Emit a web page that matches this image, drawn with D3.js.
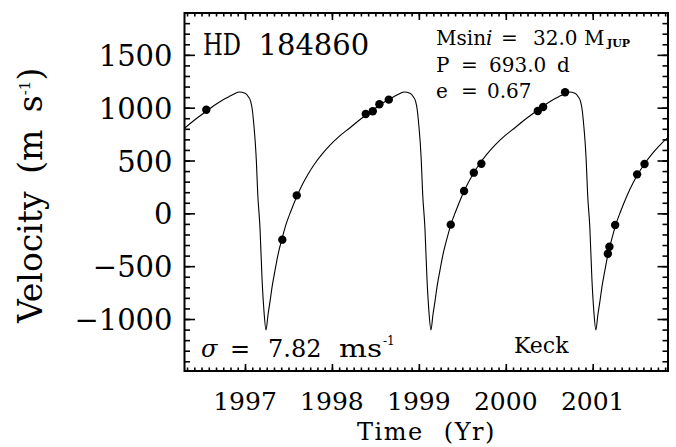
<!DOCTYPE html>
<html>
<head>
<meta charset="utf-8">
<script src="https://cdn.jsdelivr.net/npm/d3@7"></script>
<style>
html,body{margin:0;padding:0;background:#fff;}
svg{display:block;}
text{font-family:"DejaVu Serif",serif;fill:#000;}
</style>
</head>
<body>
<svg id="chart" width="676" height="447"></svg>
<script>
// ---- data ----
const obsYears = [1996.555, 1997.429, 1997.595, 1998.389, 1998.470, 1998.546, 1998.654,
  1999.367, 1999.520, 1999.632, 1999.719, 2000.368, 2000.429, 2000.682,
  2001.174, 2001.192, 2001.258, 2001.511, 2001.596];
const obsVel = [981, -249, 170, 940, 966, 1032, 1076,
  -107, 212, 385, 470, 969, 1006, 1146,
  -382, -316, -110, 369, 467];

const curveYears = [
  1996.1960, 1996.3110, 1996.4376, 1996.5527, 1996.6447, 1996.7483, 1996.8404, 1996.8864, 1996.9324,
  1997.0004, 1997.0383, 1997.0660, 1997.0844, 1997.1036, 1997.1188, 1997.1301, 1997.1462, 1997.1727,
  1997.1957, 1997.2187,
  1997.2417, 1997.2647, 1997.2877, 1997.3107, 1997.3453, 1997.3798, 1997.4258, 1997.4718, 1997.5294,
  1997.5984, 1997.6675, 1997.7250, 1997.7941, 1997.8861, 1997.9782, 1998.0933, 1998.2083, 1998.3349,
  1998.4500, 1998.5420, 1998.6456, 1998.7377, 1998.7837, 1998.8297, 1998.8977, 1998.9356, 1998.9633,
  1998.9817, 1999.0009, 1999.0161, 1999.0274, 1999.0435, 1999.0700, 1999.0930, 1999.1160,
  1999.1390, 1999.1620, 1999.1850, 1999.2080, 1999.2426, 1999.2771, 1999.3231, 1999.3691, 1999.4267,
  1999.4957, 1999.5648, 1999.6223, 1999.6914, 1999.7834, 1999.8755, 1999.9906, 2000.1056, 2000.2322,
  2000.3473, 2000.4393, 2000.5429, 2000.6350, 2000.6810, 2000.7270, 2000.7950, 2000.8329, 2000.8606,
  2000.8790, 2000.8982, 2000.9134, 2000.9247, 2000.9408, 2000.9673, 2000.9903, 2001.0133,
  2001.0363, 2001.0593, 2001.0823, 2001.1053, 2001.1399, 2001.1744, 2001.2204, 2001.2664, 2001.3240,
  2001.3930, 2001.4621, 2001.5196, 2001.5887, 2001.6807, 2001.7728, 2001.8879, 2002.0029
];
const curveVel = [
  735, 810, 895, 965, 1020, 1075, 1115, 1135, 1148,
  1136, 1104, 1057, 978, 820, 663, 505, 190, -142,
  -615, -931,
  -1104, -960, -836, -700, -540, -390, -240, -105, 25,
  165, 285, 370, 460, 560, 645, 735, 810, 895,
  965, 1020, 1075, 1115, 1135, 1148, 1136, 1104, 1057,
  978, 820, 663, 505, 190, -142, -615, -931,
  -1104, -960, -836, -700, -540, -390, -240, -105, 25,
  165, 285, 370, 460, 560, 645, 735, 810, 895,
  965, 1020, 1075, 1115, 1135, 1148, 1136, 1104, 1057,
  978, 820, 663, 505, 190, -142, -615, -931,
  -1104, -960, -836, -700, -540, -390, -240, -105, 25,
  165, 285, 370, 460, 560, 645, 735, 810
];

const xTickValues = [1997, 1998, 1999, 2000, 2001];
const xTickLabels = ["1997", "1998", "1999", "2000", "2001"];
const yTickValues = [-1000, -500, 0, 500, 1000, 1500];
const yTickLabels = ["\u22121000", "\u2212500", "0", "500", "1000", "1500"];

// ---- layout ----
const L = 184.5, R = 668, T = 13, B = 371;
const svg = d3.select("#chart");

const x = d3.scaleLinear().domain([1996.304, 2001.866]).range([L, R]);
const y = d3.scaleLinear().domain([-1492, 1896]).range([B, T]);

const xMinor = d3.range(1996, 2002.01, 1/12).filter(v => v >= x.domain()[0] && v <= x.domain()[1]);
const yMinor = d3.range(-1400, 1900, 100);

// clip
svg.append("defs").append("clipPath").attr("id", "clip")
  .append("rect").attr("x", L).attr("y", T).attr("width", R - L).attr("height", B - T);

// curve
const line = d3.line()
  .x((d, i) => x(curveYears[i]))
  .y((d, i) => y(curveVel[i]))
  .curve(d3.curveMonotoneX);

svg.append("path")
  .datum(curveVel)
  .attr("clip-path", "url(#clip)")
  .attr("d", line)
  .attr("fill", "none")
  .attr("stroke", "#000")
  .attr("stroke-width", 1.1);

// observations
svg.append("g").selectAll("circle")
  .data(obsVel)
  .join("circle")
  .attr("cx", (d, i) => x(obsYears[i]))
  .attr("cy", d => y(d))
  .attr("r", 4.2)
  .attr("fill", "#000");

// axes (ticks inward)
function styleAxis(g) {
  g.select(".domain").remove();
  g.selectAll(".tick line").attr("stroke", "#000").attr("stroke-width", 1.6);
}
const fmtNone = () => "";

svg.append("g").attr("transform", `translate(0,${B})`)
  .call(d3.axisBottom(x).tickValues(xMinor).tickSize(-3.5).tickFormat(fmtNone)).call(styleAxis);
svg.append("g").attr("transform", `translate(0,${B})`)
  .call(d3.axisBottom(x).tickValues(xTickValues).tickSize(-7).tickFormat(fmtNone)).call(styleAxis);
svg.append("g").attr("transform", `translate(0,${T})`)
  .call(d3.axisTop(x).tickValues(xMinor).tickSize(-3.5).tickFormat(fmtNone)).call(styleAxis);
svg.append("g").attr("transform", `translate(0,${T})`)
  .call(d3.axisTop(x).tickValues(xTickValues).tickSize(-7).tickFormat(fmtNone)).call(styleAxis);

svg.append("g").attr("transform", `translate(${L},0)`)
  .call(d3.axisLeft(y).tickValues(yMinor).tickSize(-5.5).tickFormat(fmtNone)).call(styleAxis);
svg.append("g").attr("transform", `translate(${L},0)`)
  .call(d3.axisLeft(y).tickValues(yTickValues).tickSize(-10.5).tickFormat(fmtNone)).call(styleAxis);
svg.append("g").attr("transform", `translate(${R},0)`)
  .call(d3.axisRight(y).tickValues(yMinor).tickSize(-5.5).tickFormat(fmtNone)).call(styleAxis);
svg.append("g").attr("transform", `translate(${R},0)`)
  .call(d3.axisRight(y).tickValues(yTickValues).tickSize(-10.5).tickFormat(fmtNone)).call(styleAxis);

// frame
svg.append("rect").attr("x", L).attr("y", T).attr("width", R - L).attr("height", B - T)
  .attr("fill", "none").attr("stroke", "#000").attr("stroke-width", 2);

// tick labels
svg.append("g").selectAll("text").data(xTickValues).join("text")
  .attr("x", d => x(d)).attr("y", 410)
  .attr("text-anchor", "middle").attr("font-size", 25)
  .text((d, i) => xTickLabels[i]);

svg.append("g").selectAll("text").data(yTickValues).join("text")
  .attr("x", 172.5).attr("y", d => y(d) + 11)
  .attr("text-anchor", "end").attr("font-size", 29)
  .text((d, i) => yTickLabels[i]);

// axis titles
svg.append("text")
  .attr("x", 426.5).attr("y", 440).attr("text-anchor", "middle")
  .attr("font-size", 24).style("letter-spacing", "1.5px").style("word-spacing", "11px")
  .text("Time (Yr)");

const yl = svg.append("text")
  .attr("transform", "translate(42,323) rotate(-90)")
  .attr("font-size", 33).style("word-spacing", "7px");
yl.append("tspan").text("Velocity (m s");
yl.append("tspan").attr("font-size", 15).attr("dy", -12).text("-1");
yl.append("tspan").attr("dy", 12).text(")");

// annotations
const hd = svg.append("text").attr("y", 55).attr("font-size", 29);
hd.append("tspan").attr("x", 203).attr("textLength", 38).attr("lengthAdjust", "spacingAndGlyphs").text("HD");
hd.append("tspan").attr("x", 258.5).text("184860");

const a1 = svg.append("text").attr("y", 45).attr("font-size", 20);
a1.append("tspan").attr("x", 436).text("Msin");
a1.append("tspan").attr("font-style", "italic").text("i");
a1.append("tspan").attr("x", 501).text("=");
a1.append("tspan").attr("x", 533).text("32.0");
a1.append("tspan").attr("x", 584).text("M");
a1.append("tspan").attr("x", 607).attr("dy", 2).attr("font-size", 11).attr("font-weight", "bold").text("JUP");

const a2 = svg.append("text").attr("y", 72).attr("font-size", 20);
a2.append("tspan").attr("x", 436).text("P");
a2.append("tspan").attr("x", 461).text("=");
a2.append("tspan").attr("x", 489).text("693.0");
a2.append("tspan").attr("x", 557).text("d");

const a3 = svg.append("text").attr("y", 98).attr("font-size", 20);
a3.append("tspan").attr("x", 436).text("e");
a3.append("tspan").attr("x", 461).text("=");
a3.append("tspan").attr("x", 487).text("0.67");

const sg = svg.append("text").attr("y", 357).attr("font-size", 24);
sg.append("tspan").attr("x", 201).attr("font-style", "italic").text("\u03c3");
sg.append("tspan").attr("x", 230).text("=");
sg.append("tspan").attr("x", 268).text("7.82");
sg.append("tspan").attr("x", 339).attr("textLength", 43).attr("lengthAdjust", "spacingAndGlyphs").text("ms");
sg.append("tspan").attr("x", 383).attr("dy", -12).attr("font-size", 12).text("-1");

svg.append("text").attr("x", 514).attr("y", 353).attr("font-size", 22).text("Keck");
</script>
</body>
</html>
